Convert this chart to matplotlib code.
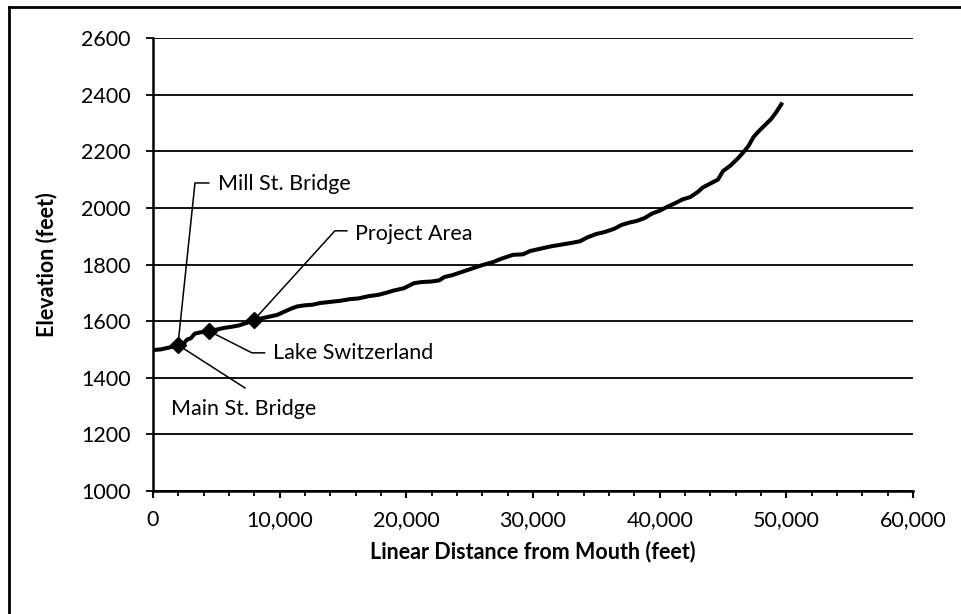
import matplotlib.pyplot as plt
from matplotlib.lines import Line2D
from matplotlib.ticker import MultipleLocator, FuncFormatter

plt.rcParams['font.family'] = ['Lato', 'DejaVu Sans']

# Stream profile
distance = [0, 600, 1200, 1600, 2000, 2400, 2700, 3000, 3300, 3700, 4400, 5000, 5600,
            6200, 6800, 7400, 8000, 8600, 9200, 9800, 10400, 11000, 11400, 12000, 12600,
            13200, 14000, 14800, 15600, 16200, 17000, 17800, 18400, 19000, 19800, 20600,
            21200, 22000, 22600, 23000, 23600, 24400, 25200, 26000, 26800, 27600, 28400,
            29200, 29800, 30600, 31400, 32200, 33000, 33700, 34300, 35000, 35600, 36400,
            37000, 37600, 38200, 38800, 39400, 40000, 40600, 41200, 41800, 42400, 43000,
            43400, 44000, 44600, 45000, 45600, 46200, 46600, 47000, 47400, 47800, 48300,
            48800, 49200, 49600]
elevation = [1498, 1500, 1506, 1510, 1516, 1520, 1535, 1540, 1556, 1560, 1565, 1570, 1576,
             1580, 1585, 1594, 1604, 1610, 1616, 1622, 1634, 1646, 1652, 1656, 1658,
             1664, 1668, 1672, 1678, 1680, 1688, 1693, 1700, 1708, 1716, 1734,
             1738, 1740, 1744, 1756, 1762, 1774, 1786, 1798, 1808, 1822, 1834,
             1836, 1848, 1856, 1864, 1870, 1876, 1882, 1896, 1908, 1914, 1926,
             1940, 1948, 1954, 1964, 1980, 1990, 2004, 2016, 2030, 2038, 2056,
             2072, 2086, 2100, 2130, 2150, 2176, 2196, 2218, 2250, 2270, 2292,
             2314, 2338, 2366]

# Landmarks (diamond markers)
mark_x = [1970, 4420, 7970]
mark_y = [1516, 1565, 1604]

# Callouts: label, which marker, elbow point, text anchor
labels = ['Mill St. Bridge', 'Main St. Bridge', 'Lake Switzerland', 'Project Area']
label_mark = [0, 0, 1, 2]
elbow_x = [3315, 7260, 7810, 14360]
elbow_y = [2088, 1364, 1488, 1919]
text_x = [5130, 1420, 9470, 15940]
text_y = [2085, 1290, 1488, 1908]

FS = 15.5

fig = plt.figure(figsize=(9.61, 6.14), dpi=100)
ax = fig.add_axes([0.1592, 0.2003, 0.7909, 0.7378])

ax.plot(distance, elevation, color='black', lw=2.9, solid_joinstyle='round', zorder=3)
ax.plot(mark_x, mark_y, 'D', color='black', markersize=8.5, zorder=4)

for i, lab in enumerate(labels):
    m = label_mark[i]
    xs = [mark_x[m], elbow_x[i]]
    ys = [mark_y[m], elbow_y[i]]
    if lab != 'Main St. Bridge':
        xs.append(elbow_x[i] + (text_x[i] - elbow_x[i]) * 0.6)
        ys.append(elbow_y[i])
    ax.text(text_x[i], text_y[i], lab, fontsize=FS, ha='left', va='center')
    ax.plot(xs, ys, color='black', lw=1.1, zorder=2)

ax.set_xlim(0, 60000)
ax.set_ylim(1000, 2600)
ax.xaxis.set_major_locator(MultipleLocator(10000))
ax.xaxis.set_minor_locator(MultipleLocator(2000))
ax.yaxis.set_major_locator(MultipleLocator(200))
ax.xaxis.set_major_formatter(FuncFormatter(lambda v, p: f'{v:,.0f}'))

ax.grid(axis='y', color='black', lw=1.3)
ax.set_axisbelow(True)
for s in ['top', 'right']:
    ax.spines[s].set_visible(False)
for s in ['left', 'bottom']:
    ax.spines[s].set_linewidth(1.8)

ax.tick_params(axis='y', which='major', direction='out', length=5, width=1.3, pad=11, labelsize=FS)
ax.tick_params(axis='x', which='major', direction='out', length=5, width=1.5, pad=9, labelsize=FS)
ax.tick_params(axis='x', which='minor', direction='out', length=3.5, width=1.3)

ax.set_xlabel('Linear Distance from Mouth (feet)', fontsize=FS, fontweight='bold', labelpad=7)
ax.set_ylabel('Elevation (feet)', fontsize=FS, fontweight='bold', labelpad=17)

# outer chart border (only left and top edges show in the picture)
fig.add_artist(Line2D([9 / 961, 9 / 961], [0, 1 - 7 / 614], transform=fig.transFigure, color='black', lw=2))
fig.add_artist(Line2D([9 / 961, 1], [1 - 7 / 614, 1 - 7 / 614], transform=fig.transFigure, color='black', lw=2))

fig.savefig('out.png', dpi=100)
